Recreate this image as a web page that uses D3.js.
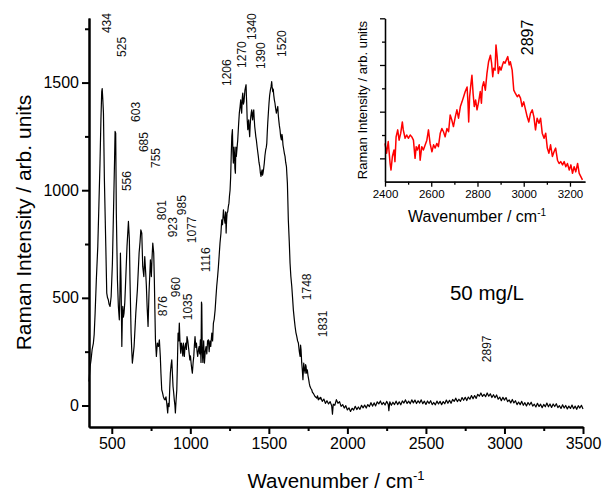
<!DOCTYPE html>
<html>
<head>
<meta charset="utf-8">
<script src="https://cdn.jsdelivr.net/npm/d3@7/dist/d3.min.js"></script>
<style>
  body { margin: 0; background: #fff; }
  svg { display: block; }
</style>
</head>
<body>
<div class="raman"></div>
<script>
// Main spectrum: [wavenumber, intensity]
var spectrum = [
  [355,111],[362,180],[368,212],[375,260],[383,290],[388,330],[394,430],[402,590],[411,739],[418,930],
  [425,1126],[431,1330],[436,1458],[439,1472],[443,1420],[447,1358],[453,1048],[462,739],[468,522],[473,500],
  [478,491],[483,470],[489,460],[496,506],[504,661],[513,971],[518,1150],[521,1273],[525,1265],[529,894],
  [536,584],[542,460],[548,398],[552,520],[555,708],[559,584],[564,274],[567,400],[570,460],[574,410],
  [578,429],[583,480],[587,553],[597,739],[606,855],[612,770],[616,584],[623,336],[627,260],[631,197],
  [636,230],[642,274],[653,429],[663,537],[674,708],[680,760],[685,816],[691,801],[697,646],[704,599],
  [710,692],[716,615],[720,560],[725,460],[731,367],[737,522],[746,677],[752,599],[756,680],[761,754],
  [767,708],[771,584],[775,420],[778,305],[784,228],[790,290],[797,274],[803,305],[809,228],[813,150],
  [818,73],[823,60],[828,42],[834,30],[839,26],[845,40],[850,11],[856,-35],[860,10],[865,-5],
  [869,80],[873,150],[878,190],[882,212],[886,150],[890,88],[894,60],[898,26],[902,0],[905,-35],
  [909,20],[914,73],[918,200],[922,336],[926,300],[930,383],[934,300],[939,243],[943,290],[947,274],
  [952,230],[956,290],[962,228],[966,270],[971,290],[975,260],[979,320],[984,300],[988,274],[993,240],
  [997,212],[1001,230],[1005,197],[1009,170],[1013,150],[1018,200],[1022,228],[1026,280],[1030,320],[1035,270],
  [1039,290],[1043,250],[1047,228],[1052,260],[1056,274],[1060,240],[1064,305],[1068,200],[1071,480],[1073,470],
  [1076,250],[1080,200],[1085,300],[1090,197],[1095,250],[1100,274],[1105,240],[1110,300],[1115,305],[1120,250],
  [1125,300],[1130,274],[1137,336],[1142,300],[1147,383],[1152,400],[1158,444],[1163,500],[1168,553],[1174,600],
  [1179,646],[1184,700],[1189,754],[1195,800],[1200,862],[1205,840],[1211,909],[1216,870],[1221,847],[1225,900],
  [1228,801],[1231,860],[1234,894],[1238,900],[1242,924],[1246,940],[1249,971],[1253,1000],[1257,1064],[1260,1150],
  [1264,1249],[1268,1281],[1271,1180],[1274,1126],[1278,1200],[1281,1172],[1284,1100],[1287,1079],[1290,1200],[1293,1157],
  [1298,1200],[1302,1234],[1307,1300],[1312,1358],[1317,1390],[1321,1420],[1324,1380],[1327,1358],[1331,1430],[1334,1451],
  [1338,1400],[1342,1412],[1345,1440],[1348,1466],[1352,1480],[1355,1490],[1357,1440],[1359,1404],[1362,1330],[1366,1281],
  [1369,1310],[1372,1327],[1375,1280],[1378,1249],[1381,1300],[1385,1342],[1388,1360],[1391,1373],[1394,1340],[1397,1327],
  [1400,1360],[1404,1373],[1407,1330],[1410,1296],[1414,1270],[1417,1249],[1421,1230],[1425,1203],[1429,1180],[1433,1157],
  [1437,1130],[1442,1110],[1446,1080],[1450,1064],[1454,1085],[1457,1095],[1460,1070],[1463,1079],[1467,1100],[1471,1126],
  [1475,1160],[1480,1188],[1484,1200],[1487,1219],[1490,1270],[1493,1312],[1497,1360],[1501,1404],[1505,1440],[1510,1466],
  [1514,1480],[1518,1505],[1521,1480],[1525,1458],[1528,1470],[1531,1443],[1535,1420],[1539,1404],[1543,1380],[1548,1358],
  [1552,1375],[1557,1389],[1560,1350],[1563,1327],[1567,1300],[1571,1281],[1575,1250],[1580,1234],[1583,1260],[1586,1249],
  [1590,1210],[1595,1188],[1599,1170],[1603,1157],[1607,1130],[1612,1110],[1615,1070],[1618,1033],[1621,950],[1624,862],
  [1630,760],[1635,661],[1640,600],[1646,553],[1651,500],[1656,444],[1662,400],[1667,367],[1672,340],[1678,320],
  [1683,300],[1688,290],[1694,250],[1699,228],[1702,280],[1705,259],[1709,200],[1713,166],[1717,120],[1722,197],
  [1726,170],[1731,150],[1734,190],[1737,181],[1741,150],[1745,166],[1749,140],[1754,119],[1758,100],[1762,88],
  [1767,80],[1773,73],[1778,60],[1783,57],[1788,50],[1794,42],[1800,38],[1805,34],[1810,45],[1815,26],
  [1820,35],[1826,30],[1830,38],[1840,19],[1850,30],[1860,10],[1870,22],[1880,7],[1890,18],[1900,-1],
  [1905,-40],[1910,6],[1920,1],[1930,27],[1940,10],[1950,18],[1960,-4],[1970,4],[1980,-12],[1990,-1],
  [2000,-21],[2010,-11],[2020,-28],[2030,-13],[2040,-21],[2050,-4],[2060,-19],[2070,-7],[2080,-18],[2090,1],
  [2100,-11],[2110,2],[2120,-12],[2130,4],[2140,-5],[2150,13],[2160,-3],[2170,12],[2180,-2],[2190,17],
  [2200,7],[2210,21],[2220,4],[2230,14],[2240,2],[2250,19],[2260,5],[2264,-24],[2270,17],[2280,1],
  [2290,15],[2300,4],[2310,20],[2320,4],[2330,17],[2340,3],[2350,21],[2360,11],[2370,26],[2380,9],
  [2390,20],[2400,8],[2410,26],[2420,12],[2430,25],[2440,9],[2450,22],[2460,11],[2470,26],[2480,8],
  [2490,20],[2500,5],[2510,21],[2520,9],[2530,22],[2540,4],[2550,14],[2560,3],[2570,20],[2580,7],
  [2590,19],[2600,4],[2610,18],[2620,8],[2630,25],[2640,10],[2650,24],[2660,10],[2670,28],[2680,19],
  [2690,34],[2700,18],[2710,29],[2720,19],[2730,37],[2740,24],[2750,38],[2760,23],[2770,39],[2780,29],
  [2790,46],[2800,31],[2810,46],[2820,33],[2830,52],[2840,43],[2850,58],[2860,42],[2870,52],[2880,41],
  [2890,58],[2900,43],[2910,54],[2920,37],[2930,50],[2940,36],[2950,49],[2960,29],[2970,39],[2980,22],
  [2990,38],[3000,25],[3010,37],[3020,18],[3030,26],[3040,12],[3050,28],[3060,12],[3070,22],[3080,4],
  [3090,16],[3100,4],[3110,19],[3120,1],[3130,13],[3140,-2],[3150,14],[3160,2],[3170,15],[3180,-3],
  [3190,6],[3200,-7],[3210,10],[3220,-5],[3230,6],[3240,-10],[3250,5],[3260,-6],[3270,11],[3280,-6],
  [3290,7],[3300,-9],[3310,7],[3320,-5],[3330,8],[3340,-10],[3350,-1],[3360,-14],[3370,3],[3380,-12],
  [3390,0],[3400,-16],[3410,-3],[3420,-14],[3430,2],[3440,-15],[3450,-3],[3460,-18],[3470,-1],[3480,-12],
  [3490,1],[3500,-16]
];

// Zoomed C-H region shown in the inset (arbitrary units)
var insetSpectrum = [
  [2400,13.2],[2407,11.1],[2414,13.6],[2422,8.9],[2426,7.5],[2432,10.4],[2439,11.8],[2443,9.3],[2448,14.6],[2455,16.1],
  [2461,13.9],[2468,15.4],[2475,17.8],[2479,16.1],[2487,14.3],[2494,15.0],[2501,14.3],[2509,15.0],[2516,14.6],[2523,13.9],
  [2530,10.0],[2535,12.5],[2540,11.8],[2548,12.9],[2552,9.6],[2559,12.5],[2566,11.8],[2574,12.9],[2581,13.9],[2588,16.1],
  [2595,13.2],[2603,11.4],[2610,12.9],[2617,12.2],[2624,13.2],[2631,12.5],[2639,15.4],[2646,16.4],[2653,15.7],[2660,14.6],
  [2668,16.4],[2675,15.7],[2682,19.3],[2689,18.2],[2696,16.8],[2704,18.9],[2711,20.4],[2718,18.6],[2726,21.1],[2733,22.1],
  [2740,23.2],[2747,24.3],[2755,25.3],[2759,21.8],[2762,17.8],[2766,23.2],[2772,26.1],[2776,27.8],[2781,23.9],[2786,21.1],
  [2792,22.5],[2798,20.4],[2805,22.1],[2812,24.3],[2817,21.8],[2821,25.3],[2827,26.4],[2834,24.6],[2841,28.2],[2848,30.7],
  [2856,32.1],[2861,30.4],[2866,27.5],[2870,29.3],[2876,28.9],[2880,34.3],[2885,31.8],[2890,28.2],[2896,29.6],[2902,28.9],
  [2908,30.0],[2913,30.7],[2919,30.4],[2925,31.1],[2931,31.8],[2937,30.0],[2942,30.7],[2950,28.9],[2957,24.6],[2964,23.9],
  [2972,23.2],[2979,23.6],[2986,22.9],[2993,21.1],[3000,22.1],[3008,20.4],[3015,18.9],[3022,17.8],[3029,19.6],[3037,20.4],
  [3044,18.9],[3051,16.1],[3058,18.6],[3066,17.5],[3073,18.6],[3080,15.4],[3088,14.3],[3095,15.4],[3102,12.2],[3109,11.1],
  [3116,12.9],[3124,10.4],[3131,11.4],[3138,12.2],[3146,9.6],[3153,8.9],[3160,9.3],[3168,8.6],[3175,9.3],[3182,8.2],
  [3189,8.9],[3197,7.5],[3204,8.6],[3211,6.8],[3218,8.2],[3225,7.1],[3233,8.9],[3240,6.8],[3247,6.1],[3254,5.4]
];

// Peak labels: [text, wavenumber, intensity at the foot of the label]
var peakLabels = [
  ["434",472,1730],["525",567,1619],["603",652,1317],["685",705,1177],["755",780,1103],
  ["556",599,996],["801",822,861],["923",892,782],["985",945,884],["1077",1013,754],
  ["1116",1100,619],["876",826,415],["960",907,503],["1035",987,396],["1206",1235,1484],
  ["1270",1331,1568],["1340",1391,1698],["1390",1448,1563],["1520",1582,1619],["1748",1745,489],
  ["1831",1847,317],["2897",2887,201]
];

var xTicks = [500, 1000, 1500, 2000, 2500, 3000, 3500];
var xMinorTicks = [750, 1250, 1750, 2250, 2750, 3250];
var yTicks = [0, 500, 1000, 1500];
var yMinorTicks = [250, 750, 1250, 1750];

var insetXTicks = [2400, 2600, 2800, 3000, 3200];
var insetXMinorTicks = [2500, 2700, 2900, 3100];
var insetYTicks = [10, 20, 30, 40];
var insetYMinorTicks = [15, 25, 35];

var font = "Arial, 'Liberation Sans', sans-serif";
var width = 603, height = 492;
var margin = ({ top: 18, right: 20, bottom: 65, left: 89 });

const svg = d3.select("div.raman")
    .append("svg")
    .attr("width", width)
    .attr("height", height)
    .attr("font-family", font);

// Scales of the main plot
var x = d3.scaleLinear()
    .domain([355, 3500])
    .range([margin.left, width - margin.right]);
var y = d3.scaleLinear()
    .domain([-100, 1800])
    .range([height - margin.bottom, margin.top]);

// Axis helpers, major ticks with labels and minor ticks without
var xAxis = g => g
    .attr("transform", `translate(0,${height - margin.bottom})`)
    .call(d3.axisBottom(x).tickValues(xTicks).tickFormat(d3.format("d")).tickSize(7).tickSizeOuter(0).tickPadding(4))
    .call(g => g.append("g")
        .call(d3.axisBottom(x).tickValues(xMinorTicks).tickSize(4).tickSizeOuter(0).tickFormat("")))
    .style("font-size", "16px")
    .style("font-family", font)
    .style("color", "black");
var yAxis = g => g
    .attr("transform", `translate(${margin.left},0)`)
    .call(d3.axisLeft(y).tickValues(yTicks).tickFormat(d3.format("d")).tickSize(7).tickSizeOuter(0).tickPadding(3))
    .call(g => g.append("g")
        .call(d3.axisLeft(y).tickValues(yMinorTicks).tickSize(4).tickSizeOuter(0).tickFormat("")))
    .style("font-size", "16px")
    .style("font-family", font)
    .style("color", "black");

// The spectrum itself
var line = d3.line()
    .x(d => x(d[0]))
    .y(d => y(d[1]));

svg.append("path")
    .datum(spectrum)
    .attr("fill", "none")
    .attr("stroke", "black")
    .attr("stroke-width", 1.2)
    .attr("stroke-linejoin", "round")
    .attr("d", line);

svg.append("g").call(xAxis)
    .call(g => g.selectAll(".domain, line").attr("stroke-width", 2));
svg.append("g").call(yAxis)
    .call(g => g.selectAll(".domain, line").attr("stroke-width", 2));

// Vertical peak labels
svg.append("g")
    .selectAll("text")
    .data(peakLabels)
    .join("text")
    .attr("transform", d => `translate(${x(d[1])},${y(d[2])}) rotate(-90)`)
    .attr("dominant-baseline", "central")
    .attr("font-size", 12)
    .attr("fill", "#111")
    .text(d => d[0]);

svg.append("text")
    .attr("x", x(2653))
    .attr("y", y(489))
    .attr("font-size", 20.5)
    .text("50 mg/L");

// Axis titles
svg.append("text")
    .attr("transform", `translate(23,${(margin.top + height - margin.bottom) / 2}) rotate(-90)`)
    .attr("text-anchor", "middle")
    .attr("dominant-baseline", "central")
    .attr("font-size", 21)
    .text("Raman Intensity / arb. units");

var xTitle = svg.append("text")
    .attr("x", (margin.left + width - margin.right) / 2)
    .attr("y", 488)
    .attr("text-anchor", "middle")
    .attr("font-size", 20.5)
    .text("Wavenumber / cm");
xTitle.append("tspan")
    .attr("dy", -8)
    .attr("font-size", 13)
    .text("-1");

// ---- Inset ----
var ix = d3.scaleLinear()
    .domain([2400, 3265])
    .range([385, 585]);
var iy = d3.scaleLinear()
    .domain([5, 40])
    .range([181.7, 18.3]);

var insetLine = d3.line()
    .x(d => ix(d[0]))
    .y(d => iy(d[1]));

svg.append("path")
    .datum(insetSpectrum)
    .attr("fill", "none")
    .attr("stroke", "#ff0000")
    .attr("stroke-width", 1.5)
    .attr("stroke-linejoin", "round")
    .attr("d", insetLine);

svg.append("g")
    .attr("transform", `translate(0,${iy(5)})`)
    .call(d3.axisBottom(ix).tickValues(insetXTicks).tickFormat(d3.format("d")).tickSize(5).tickSizeOuter(0).tickPadding(3))
    .call(g => g.append("g")
        .call(d3.axisBottom(ix).tickValues(insetXMinorTicks).tickSize(3).tickSizeOuter(0).tickFormat("")))
    .style("font-size", "11.5px")
    .style("font-family", font)
    .style("color", "black")
    .call(g => g.selectAll(".domain, line").attr("stroke-width", 1.3));

svg.append("g")
    .attr("transform", `translate(${ix(2400)},0)`)
    .call(d3.axisLeft(iy).tickValues(insetYTicks).tickSize(5).tickSizeOuter(0).tickFormat(""))
    .call(g => g.append("g")
        .call(d3.axisLeft(iy).tickValues(insetYMinorTicks).tickSize(3).tickSizeOuter(0).tickFormat("")))
    .style("color", "black")
    .call(g => g.selectAll(".domain, line").attr("stroke-width", 1.3));

svg.append("text")
    .attr("transform", `translate(${ix(3015)},${iy(32.1)}) rotate(-90)`)
    .attr("dominant-baseline", "central")
    .attr("font-size", 16)
    .text("2897");

svg.append("text")
    .attr("transform", `translate(362.7,100) rotate(-90)`)
    .attr("text-anchor", "middle")
    .attr("dominant-baseline", "central")
    .attr("font-size", 13)
    .text("Raman Intensity / arb. units");

var insetTitle = svg.append("text")
    .attr("x", 477)
    .attr("y", 221.7)
    .attr("text-anchor", "middle")
    .attr("font-size", 16)
    .text("Wavenumber / cm");
insetTitle.append("tspan")
    .attr("dy", -6)
    .attr("font-size", 10)
    .text("-1");
</script>
</body>
</html>
